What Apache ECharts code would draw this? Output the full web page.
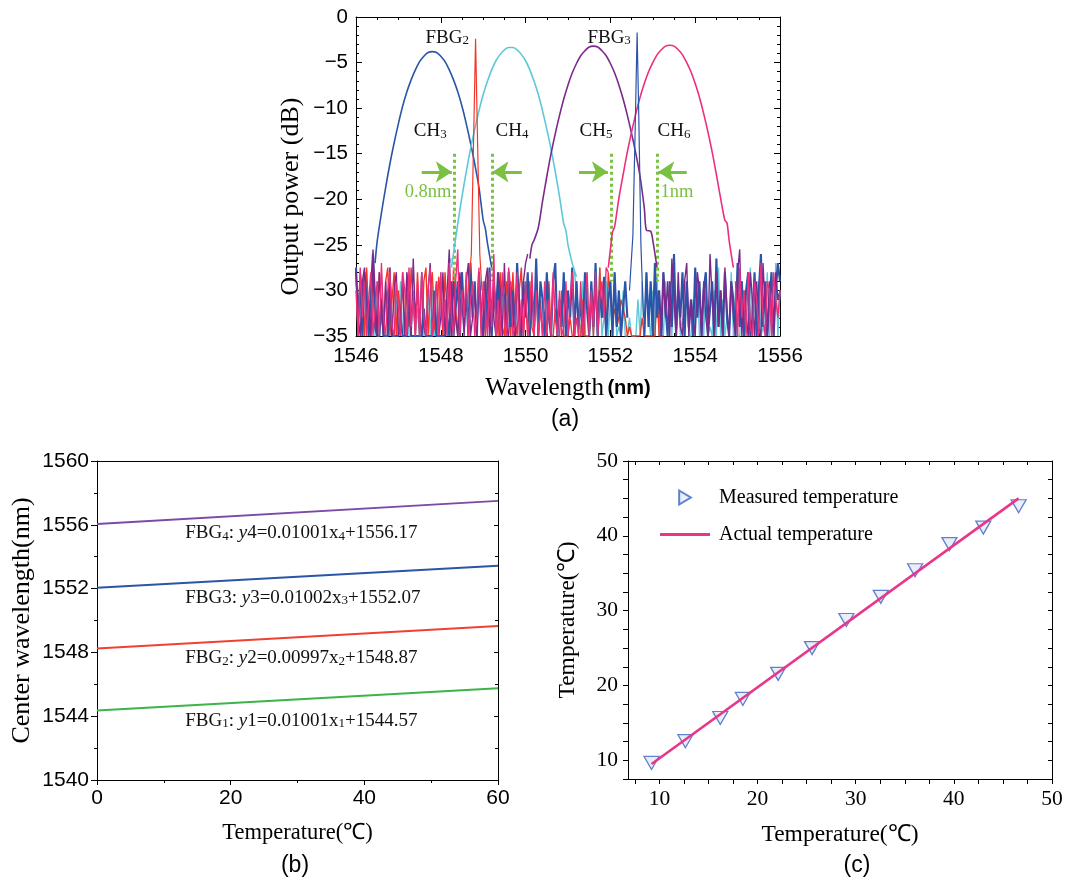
<!DOCTYPE html>
<html><head><meta charset="utf-8">
<script src="https://cdn.jsdelivr.net/npm/echarts@6/dist/echarts.min.js"></script>
<style>html,body{margin:0;padding:0;background:#fff}#c{width:1072px;height:879px}</style>
</head><body><div id="c"></div>
<script>
const _ = null;
// ---------------- Panel (a): spectra ----------------
const wlMin = 1546, wlMax = 1556, wlStep = 2;
const dbMin = -35, dbMax = 0, dbStep = 5;
const NOISE_START = 1546, NOISE_STEP = 0.05;
// noise floor values on a 0.05 nm grid starting at 1546 nm (null = channel occupies)
const noiseBlue = [
-27.5,-33,-29,-35,-28,-31,-35,-30,-26,-34,
-35,-35,-31,-35,-35,-35,-29,-35,-35,-35,
-35,-33,-35,-35,-35,-30,-35,-35,-35,-35,
-35,-35,-32,-35,-35,-35,-35,-30,-35,-35,
-35,-35,-35,-33,-35,-29,-35,-32,
-29,-35,-28,-34,-30,-35,-27,-33,-29,-35,
-28,-32,-35,-29,-34,-27.5,-35,-30,-33,-28,
-35,-29,-31,-35,-28,-34,-30,-35,-27,-32,
-35,-29,-33,-28,-35,-30,-34,-26.5,-35,-29,
-31,-35,-28,-33,-35,-29,-27,-35,-31,-34,
-28,-35,-30,-33,-27.5,-35,-29,-34,-31,-35,
-28,-32,-35,-29,-34,-27,-35,-30,-33,-28.5,
-35,-31,-29,-35,-28,-34,-30,-35,-32,-29,
-33,_,_,_,_,_,_,_,
-35,-28,-34,-29,-35,-27,-33,-30,-35,-28,
-32,-35,-29,-34,-26,-35,-30,-33,-28,-35,
-29,-34,-31,-35,-27.5,-33,-29,-35,-30,-28,
-35,-32,-29,-35,-26.5,-34,-30,-35,-28,-33,
-35,-29,-31,-35,-27,-34,-29,-35,-30,-28,
-35,-33,-28,-35,-30,-26,-34,-29,-35,-31,
-28,-35,-30,-27,-29
];
const noiseCyan = [
-27.5,-35,-30,-33,-35,-28,-34,-35,-31,-35,
-29,-35,-33,-35,-30,-35,-27.5,-34,-35,-31,
-35,-29,-35,-33,-28,-35,-35,-30,-35,-32,
-35,-28,-35,-34,-30,-35,-29,-35,-33,-35,
-28,-35,-31,-35,-27,-26.5,
_,_,_,_,_,_,_,_,_,_,_,_,_,_,_,_,_,_,_,_,_,_,_,_,_,_,_,_,_,_,
_,_,_,_,_,_,_,_,_,_,_,_,_,_,_,_,_,_,_,_,_,_,_,_,_,_,_,
-28,-30,-33,-35,-29,-35,-28,-35,-32,-35,
-30,-35,-27.5,-35,-33,-29,-35,-31,-35,-28,
-35,-34,-35,-30,-35,-35,-33,-35,-35,-35,
-31,-35,-29,-35,-28,-33,-35,-30,-35,-28.5,
-35,-32,-35,-29,-35,-31,-35,-27.5,-35,-30,
-35,-33,-35,-29,-35,-35,-31,-35,-28,-35,
-32,-35,-29,-35,-34,-35,-30,-35,-27.5,-35,
-31,-35,-33,-35,-28,-35,-30,-35,-35,-29,
-35,-32,-35,-27.5,-35,-31,-35,-29,-35,-34,
-35,-28,-35,-31,-35,-27,-35,-30
];
const noiseRed = [
-27.5,-35,-28,-30,-35,-27.5,-33,-35,-28,-31,
-35,-28,-32,-35,-29,-27.5,-35,-31,-28,-35,
-30,-33,-28,-35,-29,-34,-27.5,-31,-35,-28,
-33,-35,-29,-27.5,-35,-30,-28,-34,-35,-28.5,
-31,-35,-28,-33,-29,-35,-27.5,-32,-35,-30,
-28,-33,-31,
_,_,_,_,_,_,_,
-30,-35,-28,-33,-35,-29,-31,-35,-28,-34,
-35,-29,-32,-35,-28,-33,-35,-30,-27.5,-35,
-31,-35,-29,-34,-35,-28,-35,-31,-35,-33,
-35,-29,-35,-35,-32,-35,-35,-30,-35,-35,
-35,-33,-35,-35,-29,-35,-35,-31,-35,-35,
-35,-30,-35,-28,-35,-27.5,-33,-30,-35,-28,
-31,-33,-32,-34,-33,-31,-32,-33,-35,-34,
-35,-35,-35,-35,-35,-33,-35,-35,-35,-35,
-35,-35,-30,-35,-35,-35
];
const noisePurple = [
-28,-33,-35,-29,-27.5,-34,-31,-35,-25.5,-30,
-35,-28,-32,-35,-29,-34,-27.5,-35,-30,-28,
-35,-33,-29,-35,-28,-31,-35,-26.5,-33,-30,
-35,-28,-34,-35,-30,-27,-35,-32,-29,-35,
-33,-28,-35,-30,-25.5,-35,-29,-33,-35,-28,
-31,-35,-29,-27,-35,-33,-30,-35,-28,-34,
-35,-29,-27.5,-35,-31,-33,-35,-28,-30,-35,
-27,-34,-35,-29,-33,-35,-28,-31,-35,-29,
-27,-26,
_,_,_,_,_,_,_,_,_,_,_,_,_,_,_,_,_,_,_,_,_,_,_,_,_,_,_,_,_,_,
_,_,_,_,_,_,_,_,_,_,_,_,_,_,_,_,_,_,_,_,_,_,_,_,_,_,_,_,_,_,_,
-30,-35,-28,-33,-29,-35,-26.5,-31,-35,-28,
-34,-35,-29,-27,-35,-31,-33,-35,-28,-30,
-35,-29,-33,-35,-26,-31,-35,-28,-34,-30,
-35,-27.5,-32,-35,-29,-33,-35,-28,-25.5,-35,
-30,-33,-35,-28,-31,-35,-29,-34,-35,-27,
-32,-35,-29,-33,-35,-28,-31,-30
];
const noisePink = [
-30,-35,-27.5,-33,-29,-35,-31,-28,-35,-32,
-29,-35,-27,-33,-35,-30,-28,-34,-35,-29,
-32,-35,-28,-30,-35,-27.5,-34,-31,-35,-29,
-35,-28,-33,-35,-30,-27.5,-35,-32,-29,-35,
-28,-34,-31,-35,-27,-33,-35,-29,-25.5,-35,
-30,-33,-28,-35,-31,-29,-35,-33,-27.5,-35,
-29,-32,-35,-28,-34,-26,-35,-31,-35,-28,
-33,-35,-27.5,-30,-35,-34,-28,-35,-31,-35,
-29,-35,-33,-28,-35,-30,-35,-32,-35,-29,
-35,-31,-35,-28,-33,-35,-30,-35,-34,-29,
-35,-31,-28,-35,-33,-35,-29,-35,-32,-28,
-35,-30,-34,-28,-35,-31,-29,-33,-27.5,-28,
_,_,_,_,_,_,_,_,_,_,_,_,_,_,_,_,_,_,_,_,_,_,_,_,_,_,_,_,_,_,
_,_,_,_,_,_,_,_,_,_,_,_,_,_,_,_,_,_,_,_,_,_,_,_,_,_,_,_,_,
-29,-35,-27.5,-33,-30,-35,-28,-34,-35,-29,
-31,-35,-27,-33,-35,-29,-30,-35,-28,-31,
-33,-30
];
// channel passbands [wavelength nm, power dB]
const ch3Curve = [[1546.45,-27],[1546.5,-24.6],[1546.6,-21.5],[1546.7,-18.7],[1546.8,-16.1],[1546.9,-13.8],[1547.0,-11.7],[1547.1,-9.8],[1547.2,-8.2],[1547.3,-6.9],[1547.4,-5.8],[1547.5,-4.9],[1547.6,-4.3],[1547.7,-3.9],[1547.8,-3.8],[1547.9,-3.9],[1548.0,-4.3],[1548.1,-4.9],[1548.2,-5.8],[1548.3,-6.9],[1548.4,-8.2],[1548.5,-9.8],[1548.6,-11.7],[1548.7,-13.8],[1548.8,-16.1],[1548.9,-18.7],[1549.0,-22.3],[1549.05,-23.2],[1549.1,-24.8],[1549.2,-27.5]];
const ch4Curve = [[1548.25,-27.5],[1548.3,-25.9],[1548.4,-22.7],[1548.5,-19.7],[1548.6,-17.0],[1548.7,-14.5],[1548.8,-12.3],[1548.9,-10.3],[1549.0,-8.5],[1549.1,-7.05],[1549.2,-5.8],[1549.3,-4.8],[1549.4,-4.1],[1549.5,-3.6],[1549.6,-3.35],[1549.7,-3.35],[1549.8,-3.6],[1549.9,-4.1],[1550.0,-4.8],[1550.1,-5.8],[1550.2,-7.05],[1550.3,-8.5],[1550.4,-10.3],[1550.5,-12.3],[1550.6,-14.5],[1550.7,-17.0],[1550.8,-19.7],[1550.9,-22.7],[1550.95,-23.4],[1551.0,-25.0],[1551.1,-27.0],[1551.2,-28.5]];
const ch5Curve = [[1550.1,-26.5],[1550.15,-25],[1550.2,-24.5],[1550.3,-23.1],[1550.4,-20.2],[1550.5,-17.5],[1550.6,-15.0],[1550.7,-12.8],[1550.8,-10.8],[1550.9,-9.0],[1551.0,-7.45],[1551.1,-6.15],[1551.2,-5.1],[1551.3,-4.25],[1551.4,-3.7],[1551.5,-3.3],[1551.6,-3.2],[1551.7,-3.3],[1551.8,-3.7],[1551.9,-4.25],[1552.0,-5.1],[1552.1,-6.15],[1552.2,-7.45],[1552.3,-9.0],[1552.4,-10.8],[1552.5,-12.8],[1552.6,-15.0],[1552.7,-17.5],[1552.8,-21.0],[1552.85,-23.4],[1552.95,-23.5],[1553.0,-24.5],[1553.1,-27.5]];
const ch6Curve = [[1551.95,-27.5],[1552.0,-25.5],[1552.05,-23.6],[1552.1,-23.0],[1552.2,-19.9],[1552.3,-17.3],[1552.4,-14.8],[1552.5,-12.6],[1552.6,-10.6],[1552.7,-8.8],[1552.8,-7.3],[1552.9,-6.0],[1553.0,-5.0],[1553.1,-4.15],[1553.2,-3.6],[1553.3,-3.2],[1553.4,-3.1],[1553.5,-3.2],[1553.6,-3.6],[1553.7,-4.15],[1553.8,-5.0],[1553.9,-6.0],[1554.0,-7.3],[1554.1,-8.8],[1554.2,-10.6],[1554.3,-12.6],[1554.4,-14.8],[1554.5,-17.3],[1554.6,-19.9],[1554.7,-22.3],[1554.75,-22.6],[1554.8,-24.5],[1554.9,-27.5]];
const fbg2Peak = [[1548.65,-30],[1548.72,-26],[1548.78,-12],[1548.82,-2.4],[1548.86,-12],[1548.92,-26],[1548.97,-30]];
const fbg3Peak = [[1552.45,-30],[1552.53,-24],[1552.59,-11],[1552.63,-1.7],[1552.67,-11],[1552.72,-25],[1552.78,-33]];
// channel spacing markers (wavelength of dotted guides)
const guideWl = [1548.32, 1549.21, 1552.03, 1553.10];
const arrowPairs = [[1547.55,1548.26],[1549.91,1549.22],[1551.26,1551.94],[1553.80,1553.13]];

// ---------------- Panel (b): center wavelength vs temperature ----------------
const tempB = [0, 60];
const fbg1Line = [1544.35, 1545.75];
const fbg2Line = [1548.25, 1549.66];
const fbg3Line = [1552.06, 1553.44];
const fbg4Line = [1556.05, 1557.50];

// ---------------- Panel (c): measured vs actual temperature ----------------
const measuredX = [9.2, 12.65, 16.2, 18.5, 22.1, 25.55, 29.05, 32.55, 36.05, 39.55, 43.0, 46.6];
const measuredY = [9.65, 12.55, 15.65, 18.2, 21.55, 25.0, 28.75, 31.85, 35.4, 38.9, 41.1, 43.95];
const actualX = [9.2, 46.6];
const actualY = [9.5, 45.0];
const cTickLabels = [10, 20, 30, 40, 50];
const cTicks = [7.5,10,12.5,15,17.5,20,22.5,25,27.5,30,32.5,35,37.5,40,42.5,45,47.5,50];

// -------------------------------------------------
const SERIF = 'Liberation Serif', SANS = 'Liberation Sans';
const chart = echarts.init(document.getElementById('c'), null, {renderer: 'canvas'});
const minus = v => String(v).replace('-', '\u2212');
const plain = v => String(v);
const noisePairs = arr => arr.map((v, i) => [+(NOISE_START + i * NOISE_STEP).toFixed(2), v]);
const black = {color: '#000', width: 1};

const xAxes = [
  {gridIndex: 0, type: 'value', min: wlMin, max: wlMax, interval: wlStep, position: 'bottom',
   axisLine: {onZero: false, lineStyle: black}, axisTick: {inside: true, length: 6, lineStyle: black},
   minorTick: {show: true, splitNumber: 4, length: 3, lineStyle: black}, splitLine: {show: false},
   axisLabel: {fontFamily: SANS, fontSize: 20.5, color: '#000', margin: 10, formatter: plain},
   name: '{a|Wavelength} {b|(nm)}', nameLocation: 'middle', nameGap: 40,
   nameTextStyle: {rich: {a: {fontFamily: SERIF, fontSize: 25, color: '#000'}, b: {fontFamily: SANS, fontSize: 20, color: '#000', fontWeight: 'bold'}}}},
  {gridIndex: 0, type: 'value', min: wlMin, max: wlMax, interval: wlStep, position: 'top',
   axisLine: {onZero: false, lineStyle: black}, axisTick: {inside: true, length: 6, lineStyle: black},
   minorTick: {show: true, splitNumber: 4, length: 3, lineStyle: black}, splitLine: {show: false}, axisLabel: {show: false}},
  {gridIndex: 1, type: 'value', min: 0, max: 60, interval: 20, position: 'bottom',
   axisLine: {onZero: false, lineStyle: black}, axisTick: {inside: false, length: 5, lineStyle: black},
   minorTick: {show: true, splitNumber: 2, length: 3, lineStyle: black}, splitLine: {show: false},
   axisLabel: {fontFamily: SANS, fontSize: 21, color: '#000', margin: 8, formatter: plain},
   name: 'Temperature(\u2103)', nameLocation: 'middle', nameGap: 42,
   nameTextStyle: {fontFamily: SERIF, fontSize: 22.5, color: '#000'}},
  {gridIndex: 1, type: 'value', min: 0, max: 60, interval: 20, position: 'top',
   axisLine: {onZero: false, lineStyle: black}, axisTick: {show: false}, splitLine: {show: false}, axisLabel: {show: false}},
  {gridIndex: 2, type: 'value', min: 6.8, max: 50, position: 'bottom',
   axisLine: {onZero: false, lineStyle: black}, axisTick: {inside: false, length: 5, lineStyle: black, customValues: cTicks},
   splitLine: {show: false},
   axisLabel: {fontFamily: SERIF, fontSize: 21.5, color: '#000', margin: 9, customValues: cTickLabels},
   name: 'Temperature(\u2103)', nameLocation: 'middle', nameGap: 44,
   nameTextStyle: {fontFamily: SERIF, fontSize: 23.5, color: '#000'}},
  {gridIndex: 2, type: 'value', min: 6.8, max: 50, position: 'top',
   axisLine: {onZero: false, lineStyle: black}, axisTick: {inside: true, length: 4, lineStyle: black, customValues: cTicks},
   splitLine: {show: false}, axisLabel: {show: false}}
];
const yAxes = [
  {gridIndex: 0, type: 'value', min: dbMin, max: dbMax, interval: dbStep, position: 'left',
   axisLine: {onZero: false, lineStyle: black}, axisTick: {inside: true, length: 6, lineStyle: black},
   minorTick: {show: true, splitNumber: 5, length: 3, lineStyle: black}, splitLine: {show: false},
   axisLabel: {fontFamily: SANS, fontSize: 20.5, color: '#000', margin: 8, formatter: minus},
   name: 'Output power (dB)', nameLocation: 'middle', nameGap: 52,
   nameTextStyle: {fontFamily: SERIF, fontSize: 26, color: '#000', padding: [0, 40, 0, 0]}},
  {gridIndex: 0, type: 'value', min: dbMin, max: dbMax, interval: dbStep, position: 'right',
   axisLine: {onZero: false, lineStyle: black}, axisTick: {inside: true, length: 6, lineStyle: black},
   minorTick: {show: true, splitNumber: 5, length: 3, lineStyle: black}, splitLine: {show: false}, axisLabel: {show: false}},
  {gridIndex: 1, type: 'value', min: 1540, max: 1560, interval: 4, position: 'left',
   axisLine: {onZero: false, lineStyle: black}, axisTick: {inside: false, length: 6, lineStyle: black},
   minorTick: {show: true, splitNumber: 2, length: 3, lineStyle: black}, splitLine: {show: false},
   axisLabel: {fontFamily: SANS, fontSize: 21, color: '#000', margin: 8, formatter: plain},
   name: 'Center wavelength(nm)', nameLocation: 'middle', nameGap: 62,
   nameTextStyle: {fontFamily: SERIF, fontSize: 26, color: '#000'}},
  {gridIndex: 1, type: 'value', min: 1540, max: 1560, interval: 4, position: 'right',
   axisLine: {onZero: false, lineStyle: black}, axisTick: {inside: true, length: 4, lineStyle: black},
   minorTick: {show: true, splitNumber: 2, length: 3, lineStyle: black}, splitLine: {show: false}, axisLabel: {show: false}},
  {gridIndex: 2, type: 'value', min: 7.5, max: 50, position: 'left',
   axisLine: {onZero: false, lineStyle: black}, axisTick: {inside: false, length: 5, lineStyle: black, customValues: cTicks},
   splitLine: {show: false},
   axisLabel: {fontFamily: SERIF, fontSize: 21.5, color: '#000', margin: 10, customValues: cTickLabels},
   name: 'Temperature(\u2103)', nameLocation: 'middle', nameGap: 48,
   nameTextStyle: {fontFamily: SERIF, fontSize: 23.5, color: '#000'}},
  {gridIndex: 2, type: 'value', min: 7.5, max: 50, position: 'right',
   axisLine: {onZero: false, lineStyle: black}, axisTick: {inside: true, length: 4, lineStyle: black, customValues: cTicks},
   splitLine: {show: false}, axisLabel: {show: false}}
];

const C = {blue: '#2b55a8', cyan: '#5ec8d8', red: '#f2372a', purple: '#7b2a8c', pink: '#ec2f7d', green: '#7ac142'};
const lineA = (name, data, color, width, z, smooth) => ({
  name, type: 'line', xAxisIndex: 0, yAxisIndex: 0, data, showSymbol: false, symbol: 'none',
  smooth: smooth || false, lineStyle: {color, width}, itemStyle: {color}, z, silent: true, animation: false
});

const series = [
  lineA('noiseCyan', noisePairs(noiseCyan), C.cyan, 1.4, 2),
  lineA('noiseRed', noisePairs(noiseRed), C.red, 1.4, 3),
  lineA('noiseBlue', noisePairs(noiseBlue), C.blue, 2.1, 4),
  lineA('noisePurple', noisePairs(noisePurple), C.purple, 1.4, 5),
  lineA('noisePink', noisePairs(noisePink), C.pink, 1.4, 6),
  lineA('CH3', ch3Curve, C.blue, 1.6, 7, 0.3),
  lineA('CH4', ch4Curve, C.cyan, 1.6, 7, 0.3),
  lineA('CH5', ch5Curve, C.purple, 1.6, 7, 0.3),
  lineA('CH6', ch6Curve, C.pink, 1.6, 7, 0.3),
  lineA('FBG2', fbg2Peak, C.red, 1.2, 8),
  lineA('FBG3', fbg3Peak, C.blue, 1.2, 8),
  {type: 'line', xAxisIndex: 0, yAxisIndex: 0, data: [], silent: true, z: 9,
   markLine: {silent: true, symbol: ['none', 'none'], label: {show: false}, animation: false,
     lineStyle: {color: C.green, width: 3, type: [3, 3]},
     data: guideWl.map(w => [{coord: [w, -15]}, {coord: [w, -29]}])}},
  {type: 'line', xAxisIndex: 0, yAxisIndex: 0, data: [], silent: true, z: 9,
   markLine: {silent: true, symbol: ['none', 'arrow'], symbolSize: 16, label: {show: false}, animation: false,
     lineStyle: {color: C.green, width: 3, type: 'solid'},
     data: arrowPairs.map(p => [{coord: [p[0], -17]}, {coord: [p[1], -17]}])}}
];
const bColors = ['#3db34a', '#f04030', '#2a55a8', '#7b4aa8'];
[fbg1Line, fbg2Line, fbg3Line, fbg4Line].forEach((ln, k) => {
  series.push({name: 'FBG' + (k + 1) + ' fit', type: 'line', xAxisIndex: 2, yAxisIndex: 2,
    data: tempB.map((t, i) => [t, ln[i]]), showSymbol: false, symbol: 'none',
    lineStyle: {color: bColors[k], width: 2}, silent: true});
});
series.push({name: 'Measured temperature', type: 'scatter', xAxisIndex: 4, yAxisIndex: 4,
  data: measuredX.map((x, i) => [x, measuredY[i]]), symbol: 'triangle', symbolRotate: 180, symbolSize: [15, 13],
  itemStyle: {color: 'rgba(205,218,242,0.55)', borderColor: '#3a63c4', borderWidth: 1.3}, z: 3});
series.push({name: 'Actual temperature', type: 'line', xAxisIndex: 4, yAxisIndex: 4,
  data: actualX.map((x, i) => [x, actualY[i]]), showSymbol: false, symbol: 'none',
  lineStyle: {color: '#e8368a', width: 2.6}, itemStyle: {color: '#e8368a'}, z: 4});

const option = {
  animation: false,
  backgroundColor: '#fff',
  grid: [
    {left: 356, top: 17, width: 424, height: 319},
    {left: 97, top: 461, width: 401, height: 319},
    {left: 628, top: 461, width: 424, height: 318}
  ],
  xAxis: xAxes, yAxis: yAxes,
  legend: {
    data: [{name: 'Measured temperature', icon: 'path://M0,0L10,6L0,12Z'},
           {name: 'Actual temperature', icon: 'path://M0,0H50V3H0Z'}],
    orient: 'vertical', left: 655, top: 482, itemWidth: 50, itemHeight: 14, itemGap: 16,
    textStyle: {fontFamily: SERIF, fontSize: 20, color: '#000', lineHeight: 21, padding: [0, 0, 0, 4]},
    selectedMode: false
  },
  series
};
chart.setOption(option);

// text annotations anchored in data coordinates
const mk = (size, color, extra) => Object.assign({fontFamily: SERIF, fontSize: size, fill: color, color, lineHeight: size + 1, verticalAlign: 'bottom'}, extra || {});
const rich = {
  t: mk(19, '#111'),
  s: mk(13, '#111'),
  i: mk(19, '#111', {fontStyle: 'italic'}),
  g: mk(18.5, C.green)
};
const notesA = [
  ['{t|FBG}{s|2}', 1548.15, -2.2], ['{t|FBG}{s|3}', 1551.97, -2.2],
  ['{t|CH}{s|3}', 1547.75, -12.5], ['{t|CH}{s|4}', 1549.68, -12.5],
  ['{t|CH}{s|5}', 1551.66, -12.5], ['{t|CH}{s|6}', 1553.5, -12.5],
  ['{g|0.8nm}', 1547.7, -19.2], ['{g|1nm}', 1553.57, -19.2]
];
const notesB = [
  ['{t|FBG}{s|4}{t|: }{i|y}{t|4=0.01001x}{s|4}{t|+1556.17}', 13.2, 1555.5],
  ['{t|FBG3: }{i|y}{t|3=0.01002x}{s|3}{t|+1552.07}', 13.2, 1551.47],
  ['{t|FBG}{s|2}{t|: }{i|y}{t|2=0.00997x}{s|2}{t|+1548.87}', 13.2, 1547.65],
  ['{t|FBG}{s|1}{t|: }{i|y}{t|1=0.01001x}{s|1}{t|+1544.57}', 13.2, 1543.76]
];
const graphics = [];
notesA.forEach(([txt, x, y]) => {
  const p = chart.convertToPixel({gridIndex: 0}, [x, y]);
  graphics.push({type: 'text', x: p[0], y: p[1], z: 20, style: {text: txt, rich, align: 'center', verticalAlign: 'middle'}});
});
notesB.forEach(([txt, x, y]) => {
  const p = chart.convertToPixel({gridIndex: 1}, [x, y]);
  graphics.push({type: 'text', x: p[0], y: p[1], z: 20, style: {text: txt, rich, align: 'left', verticalAlign: 'middle'}});
});
[['(a)', 565, 420], ['(b)', 295, 866], ['(c)', 857, 866]].forEach(([t, x, y]) => {
  graphics.push({type: 'text', x, y, style: {text: t, fontFamily: SANS, fontSize: 23, fill: '#000', align: 'center', verticalAlign: 'middle'}});
});
chart.setOption({graphic: graphics});
</script>
</body></html>
